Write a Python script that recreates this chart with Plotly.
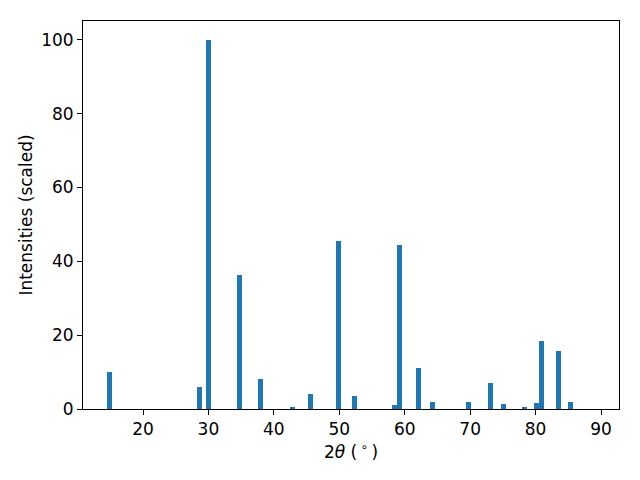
import plotly.graph_objects as go

two_theta = [14.85, 28.64, 30.01, 34.75, 37.97, 42.84, 45.6, 49.88, 52.33,
             58.5, 59.25, 62.1, 64.3, 69.75, 73.1, 75.1, 78.3, 80.2, 80.9, 83.5, 85.4]
intensity = [10.1, 6.0, 100.0, 36.3, 8.1, 0.4, 4.0, 45.5, 3.5,
             1.1, 44.4, 11.1, 1.9, 1.9, 7.0, 1.4, 0.4, 1.6, 18.4, 15.7, 1.9]
x_ticks = [20, 30, 40, 50, 60, 70, 80, 90]
y_ticks = [0, 20, 40, 60, 80, 100]

fig = go.Figure(go.Bar(x=two_theta, y=intensity, width=0.75,
                       marker=dict(color="#1f77b4", line=dict(width=0))))

font = dict(family="DejaVu Sans", size=17, color="black")
axis_common = dict(showline=True, linecolor="black", linewidth=1, mirror=True,
                   ticks="outside", ticklen=5, tickcolor="black", tickwidth=1,
                   showgrid=False, zeroline=False, tickfont=font)
fig.update_layout(
    width=640, height=480,
    margin=dict(l=75, r=29, t=13, b=79, autoexpand=False),
    plot_bgcolor="white", paper_bgcolor="white",
    showlegend=False, bargap=0,
    xaxis=dict(range=[10.83, 92.75], tickvals=x_ticks,
               title=dict(text="2<i>θ</i> (\u2009<sup>∘</sup>\u2009)", font=font, standoff=7),
               **axis_common),
    yaxis=dict(range=[0, 105.1], tickvals=y_ticks,
               title=dict(text="Intensities (scaled)", font=font, standoff=4),
               **axis_common),
)
fig.write_html("out.html")
